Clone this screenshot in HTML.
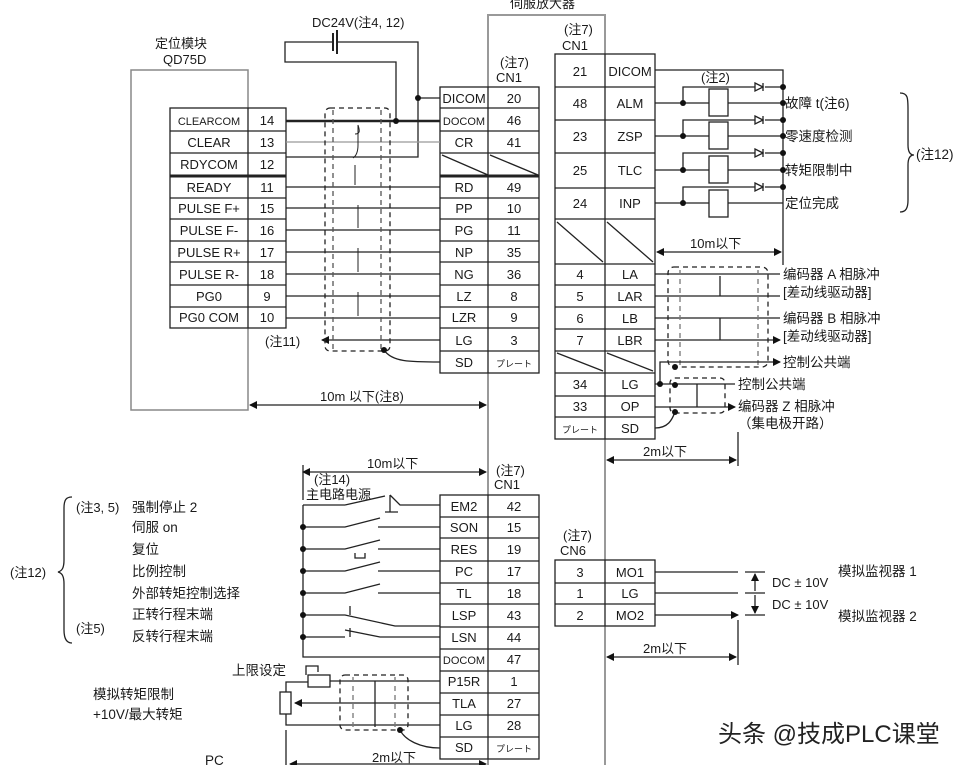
<!DOCTYPE html>
<html><head><meta charset="utf-8"><style>
html,body{margin:0;padding:0;background:#fff;}
svg{display:block;}
text{font-family:"Liberation Sans","Noto Sans CJK SC",sans-serif;fill:#1a1a1a;}
.t{font-size:13px;}
.s{font-size:13px;}
.c{font-size:13.5px;}
</style></head><body>
<svg width="972" height="765" viewBox="0 0 972 765" xmlns="http://www.w3.org/2000/svg">
<defs>
<marker id="ar" markerWidth="8" markerHeight="8" refX="7" refY="4" orient="auto" markerUnits="userSpaceOnUse"><path d="M0,0 L8,4 L0,8 z" fill="#111"/></marker>
<marker id="al" markerWidth="8" markerHeight="8" refX="1" refY="4" orient="auto" markerUnits="userSpaceOnUse"><path d="M8,0 L0,4 L8,8 z" fill="#111"/></marker>
</defs>
<g stroke="#222" fill="none" stroke-width="1.3">
<path d="M488,765 V15 H605 V765" stroke="#999" stroke-width="2"/>
<rect x="131" y="70" width="117" height="340" stroke="#888" stroke-width="1.5"/>
<rect x="170" y="108" width="116" height="220" fill="#fff"/>
<line x1="248" y1="108" x2="248" y2="328"/>
<path d="M170,131H286M170,153H286M170,198H286M170,219H286M170,241H286M170,262H286M170,285H286M170,307H286"/>
<line x1="170" y1="176" x2="286" y2="176" stroke-width="3"/>
<rect x="440" y="87" width="99" height="286" fill="#fff"/>
<line x1="488" y1="87" x2="488" y2="373"/>
<path d="M440,108H539M440,131H539M440,153H539M440,198H539M440,219H539M440,241H539M440,262H539M440,285H539M440,307H539M440,328H539M440,351H539"/>
<line x1="440" y1="176" x2="539" y2="176" stroke-width="3"/>
<path d="M442,155L488,175M490,155L538,175"/>
<rect x="555" y="54" width="100" height="385" fill="#fff"/>
<line x1="605" y1="54" x2="605" y2="439"/>
<path d="M555,87H655M555,120H655M555,153H655M555,188H655M555,219H655M555,264H655M555,285H655M555,307H655M555,329H655M555,351H655M555,373H655M555,396H655M555,417H655"/>
<path d="M557,222L603,262M607,222L653,262M557,353L603,371M607,353L653,371"/>
<path d="M333,42H285V62H396V121M337,42H418V157H286"/>
<path d="M333,33V51M337,30V54" stroke-width="2"/>
<path d="M418,98H440"/>
<line x1="286" y1="121" x2="440" y2="121" stroke-width="2.5"/>
<path d="M286,142H440" stroke="#999"/>
<path d="M286,187H440M286,208H440M286,230H440M286,252H440M286,274H440M286,296H440M286,318H440"/>
<path d="M440,340H322" marker-end="url(#ar)"/>
<path d="M440,362C410,362 392,362 384,350"/>
<rect x="325" y="108" width="65" height="243" rx="5" stroke-dasharray="5,4"/>
<path d="M333,110V349M381,110V349" stroke-dasharray="5,4" stroke="#555"/>
<path d="M355,134C360,134 360,131 358,125V145C358,152 356,156 353,158M355,165V185M358,205V228M358,248V272M358,292V316" stroke-width="1"/>
<path d="M250,405H486" marker-start="url(#al)" marker-end="url(#ar)"/>
<path d="M655,70H783V265"/>
<path d="M655,103H709M728,103H783M683,103V87H755M765,87H783"/>
<path d="M655,136H709M728,136H783M683,136V120H755M765,120H783"/>
<path d="M655,170H709M728,170H783M683,170V153H755M765,153H783"/>
<path d="M655,203H709M728,203H783M683,203V187H755M765,187H783"/>
<rect x="709" y="89" width="19" height="27"/><rect x="709" y="122" width="19" height="27"/><rect x="709" y="156" width="19" height="27"/><rect x="709" y="190" width="19" height="27"/>
<path d="M755,83L763,87L755,91zM763,83V91M755,116L763,120L755,124zM763,116V124M755,149L763,153L755,157zM763,149V157M755,183L763,187L755,191zM763,183V191"/>
<path d="M900,93C908,93 908,98 908,110V145C908,152 910,155 914,155C910,155 908,158 908,165V200C908,208 906,212 900,212"/>
<path d="M657,252H781" marker-start="url(#al)" marker-end="url(#ar)"/>
<path d="M655,274H780M655,296H780M655,318H780M655,340H780" marker-end="url(#ar)"/>
<path d="M720,276V296M720,318V340"/>
<rect x="668" y="267" width="100" height="100" rx="6" stroke-dasharray="5,4"/>
<path d="M680,270V365M758,270V365" stroke-dasharray="5,4" stroke="#777"/>
<path d="M660,384V362H780" marker-end="url(#ar)"/>
<path d="M655,384H735M655,407H735" marker-end="url(#ar)"/>
<path d="M697,384V407"/>
<rect x="670" y="378" width="55" height="35" rx="5" stroke-dasharray="5,4"/>
<path d="M655,428C668,428 672,420 675,412"/>
<path d="M607,460H736" marker-start="url(#al)" marker-end="url(#ar)"/>
<path d="M738,432V466M738,620V665"/>
<path d="M607,657H736" marker-start="url(#al)" marker-end="url(#ar)"/>
<rect x="555" y="560" width="100" height="66" fill="#fff"/>
<path d="M605,560V626M555,583H655M555,604H655"/>
<path d="M655,572H738M655,593H738M655,615H738" marker-end="url(#ar)"/>
<path d="M745,572H765M745,593H765M745,615H765"/>
<path d="M755,574V591M755,595V613" marker-start="url(#al)" marker-end="url(#ar)"/>
<rect x="440" y="495" width="99" height="264" fill="#fff"/>
<line x1="488" y1="495" x2="488" y2="759"/>
<path d="M440,517H539M440,538H539M440,561H539M440,583H539M440,604H539M440,627H539M440,649H539M440,671H539M440,693H539M440,715H539M440,737H539"/>
<path d="M303,472H486" marker-start="url(#al)" marker-end="url(#ar)"/>
<path d="M303,465V500"/>
<path d="M303,505V657H440"/>
<path d="M303,505H345M345,505L385,496M390,495L400,505H440M390,495V512M385,512H398"/>
<path d="M303,527H345L380,518M378,527H440"/>
<path d="M303,549H345L380,540M378,549H440M355,553V558H365V553"/>
<path d="M303,571H345L380,562M378,571H440"/>
<path d="M303,593H345L380,584M378,593H440"/>
<path d="M303,615H345L395,626H440M350,615V606"/>
<path d="M303,637H345M345,630L380,637H440M350,637V628"/>
<rect x="308" y="675" width="22" height="12"/>
<rect x="280" y="692" width="11" height="22"/>
<path d="M330,681H440M286,692V682H308M306,675V666H318V672"/>
<path d="M440,703H295" marker-end="url(#ar)"/>
<path d="M286,714V725H440M286,730V765"/>
<path d="M375,681V727"/>
<rect x="340" y="675" width="68" height="55" rx="5" stroke-dasharray="5,4"/>
<path d="M353,677V728M395,677V728" stroke-dasharray="5,4" stroke="#777"/>
<path d="M440,748C420,748 405,740 400,730"/>
<path d="M72,497C66,497 64,500 64,508V560C64,568 62,571 58,572C62,573 64,576 64,584V630C64,638 66,643 72,643"/>
<path d="M290,764H486" marker-start="url(#al)" marker-end="url(#ar)"/>
</g>
<g fill="#111">
<circle cx="396" cy="121" r="3"/><circle cx="418" cy="98" r="3"/><circle cx="384" cy="350" r="3"/>
<circle cx="683" cy="103" r="3"/><circle cx="683" cy="136" r="3"/><circle cx="683" cy="170" r="3"/><circle cx="683" cy="203" r="3"/>
<circle cx="783" cy="87" r="3"/><circle cx="783" cy="103" r="3"/><circle cx="783" cy="120" r="3"/><circle cx="783" cy="136" r="3"/><circle cx="783" cy="153" r="3"/><circle cx="783" cy="170" r="3"/><circle cx="783" cy="187" r="3"/>
<circle cx="660" cy="384" r="3"/><circle cx="675" cy="367" r="3"/><circle cx="675" cy="385" r="3"/><circle cx="675" cy="412" r="3"/>
<circle cx="303" cy="527" r="3"/><circle cx="303" cy="549" r="3"/><circle cx="303" cy="571" r="3"/><circle cx="303" cy="593" r="3"/><circle cx="303" cy="615" r="3"/><circle cx="303" cy="637" r="3"/>
<circle cx="400" cy="730" r="3"/>
</g>
<text x="510" y="8" class="t">伺服放大器</text>
<text x="155" y="48" class="t">定位模块</text>
<text x="163" y="64" class="s">QD75D</text>
<text x="312" y="27" class="t">DC24V(注4, 12)</text>
<g class="s" text-anchor="middle">
<text x="209" y="125" style="font-size:11px">CLEARCOM</text><text x="209" y="147">CLEAR</text><text x="209" y="169">RDYCOM</text><text x="209" y="192">READY</text><text x="209" y="213">PULSE F+</text><text x="209" y="235">PULSE F-</text><text x="209" y="257">PULSE R+</text><text x="209" y="279">PULSE R-</text><text x="209" y="301">PG0</text><text x="209" y="322">PG0 COM</text>
<text x="267" y="125">14</text><text x="267" y="147">13</text><text x="267" y="169">12</text><text x="267" y="192">11</text><text x="267" y="213">15</text><text x="267" y="235">16</text><text x="267" y="257">17</text><text x="267" y="279">18</text><text x="267" y="301">9</text><text x="267" y="322">10</text>
<text x="464" y="103">DICOM</text><text x="464" y="125" style="font-size:11px">DOCOM</text><text x="464" y="147">CR</text><text x="464" y="192">RD</text><text x="464" y="213">PP</text><text x="464" y="235">PG</text><text x="464" y="257">NP</text><text x="464" y="279">NG</text><text x="464" y="301">LZ</text><text x="464" y="322">LZR</text><text x="464" y="345">LG</text><text x="464" y="367">SD</text>
<text x="514" y="103">20</text><text x="514" y="125">46</text><text x="514" y="147">41</text><text x="514" y="192">49</text><text x="514" y="213">10</text><text x="514" y="235">11</text><text x="514" y="257">35</text><text x="514" y="279">36</text><text x="514" y="301">8</text><text x="514" y="322">9</text><text x="514" y="345">3</text><text x="514" y="367" style="font-size:9px">プレート</text>
<text x="580" y="76">21</text><text x="580" y="108">48</text><text x="580" y="141">23</text><text x="580" y="175">25</text><text x="580" y="208">24</text><text x="580" y="279">4</text><text x="580" y="301">5</text><text x="580" y="323">6</text><text x="580" y="345">7</text><text x="580" y="389">34</text><text x="580" y="411">33</text><text x="580" y="433" style="font-size:9px">プレート</text>
<text x="630" y="76">DICOM</text><text x="630" y="108">ALM</text><text x="630" y="141">ZSP</text><text x="630" y="175">TLC</text><text x="630" y="208">INP</text><text x="630" y="279">LA</text><text x="630" y="301">LAR</text><text x="630" y="323">LB</text><text x="630" y="345">LBR</text><text x="630" y="389">LG</text><text x="630" y="411">OP</text><text x="630" y="433">SD</text>
<text x="580" y="577">3</text><text x="580" y="598">1</text><text x="580" y="620">2</text>
<text x="630" y="577">MO1</text><text x="630" y="598">LG</text><text x="630" y="620">MO2</text>
<text x="464" y="511">EM2</text><text x="464" y="532">SON</text><text x="464" y="554">RES</text><text x="464" y="576">PC</text><text x="464" y="598">TL</text><text x="464" y="620">LSP</text><text x="464" y="642">LSN</text><text x="464" y="664" style="font-size:11px">DOCOM</text><text x="464" y="686">P15R</text><text x="464" y="708">TLA</text><text x="464" y="730">LG</text><text x="464" y="752">SD</text>
<text x="514" y="511">42</text><text x="514" y="532">15</text><text x="514" y="554">19</text><text x="514" y="576">17</text><text x="514" y="598">18</text><text x="514" y="620">43</text><text x="514" y="642">44</text><text x="514" y="664">47</text><text x="514" y="686">1</text><text x="514" y="708">27</text><text x="514" y="730">28</text><text x="514" y="752" style="font-size:9px">プレート</text>
</g>
<g class="s">
<text x="500" y="67">(注7)</text><text x="496" y="82">CN1</text>
<text x="564" y="34">(注7)</text><text x="562" y="50">CN1</text>
<text x="563" y="540">(注7)</text><text x="560" y="555">CN6</text>
<text x="496" y="475">(注7)</text><text x="494" y="489">CN1</text>
<text x="701" y="82">(注2)</text>
<text x="265" y="346">(注11)</text>
<text x="320" y="401">10m 以下(注8)</text>
<text x="690" y="248">10m以下</text>
<text x="643" y="456">2m以下</text>
<text x="643" y="653">2m以下</text>
<text x="367" y="468">10m以下</text>
<text x="314" y="484">(注14)</text>
<text x="306" y="499">主电路电源</text>
<text x="372" y="762">2m以下</text>
<text x="772" y="587">DC ± 10V</text>
<text x="772" y="609">DC ± 10V</text>
</g>
<g class="c">
<text x="785" y="108">故障 t(注6)</text>
<text x="785" y="141">零速度检测</text>
<text x="785" y="175">转矩限制中</text>
<text x="785" y="208">定位完成</text>
<text x="916" y="159">(注12)</text>
<text x="783" y="279">编码器 A 相脉冲</text>
<text x="783" y="297">[差动线驱动器]</text>
<text x="783" y="323">编码器 B 相脉冲</text>
<text x="783" y="341">[差动线驱动器]</text>
<text x="783" y="367">控制公共端</text>
<text x="738" y="389">控制公共端</text>
<text x="738" y="411">编码器 Z 相脉冲</text>
<text x="738" y="428">（集电极开路）</text>
<text x="838" y="576">模拟监视器 1</text>
<text x="838" y="621">模拟监视器 2</text>
<text x="76" y="512" class="s">(注3, 5)</text>
<text x="132" y="512">强制停止 2</text>
<text x="132" y="532">伺服 on</text>
<text x="132" y="554">复位</text>
<text x="132" y="576">比例控制</text>
<text x="132" y="598">外部转矩控制选择</text>
<text x="132" y="619">正转行程末端</text>
<text x="132" y="641">反转行程末端</text>
<text x="76" y="633" class="s">(注5)</text>
<text x="10" y="577" class="s">(注12)</text>
<text x="232" y="675">上限设定</text>
<text x="93" y="699">模拟转矩限制</text>
<text x="93" y="719">+10V/最大转矩</text>
<text x="205" y="765">PC</text>
</g>
<text x="718" y="742" style="font-size:24px;fill:#222">头条 @技成PLC课堂</text>
</svg>
</body></html>
